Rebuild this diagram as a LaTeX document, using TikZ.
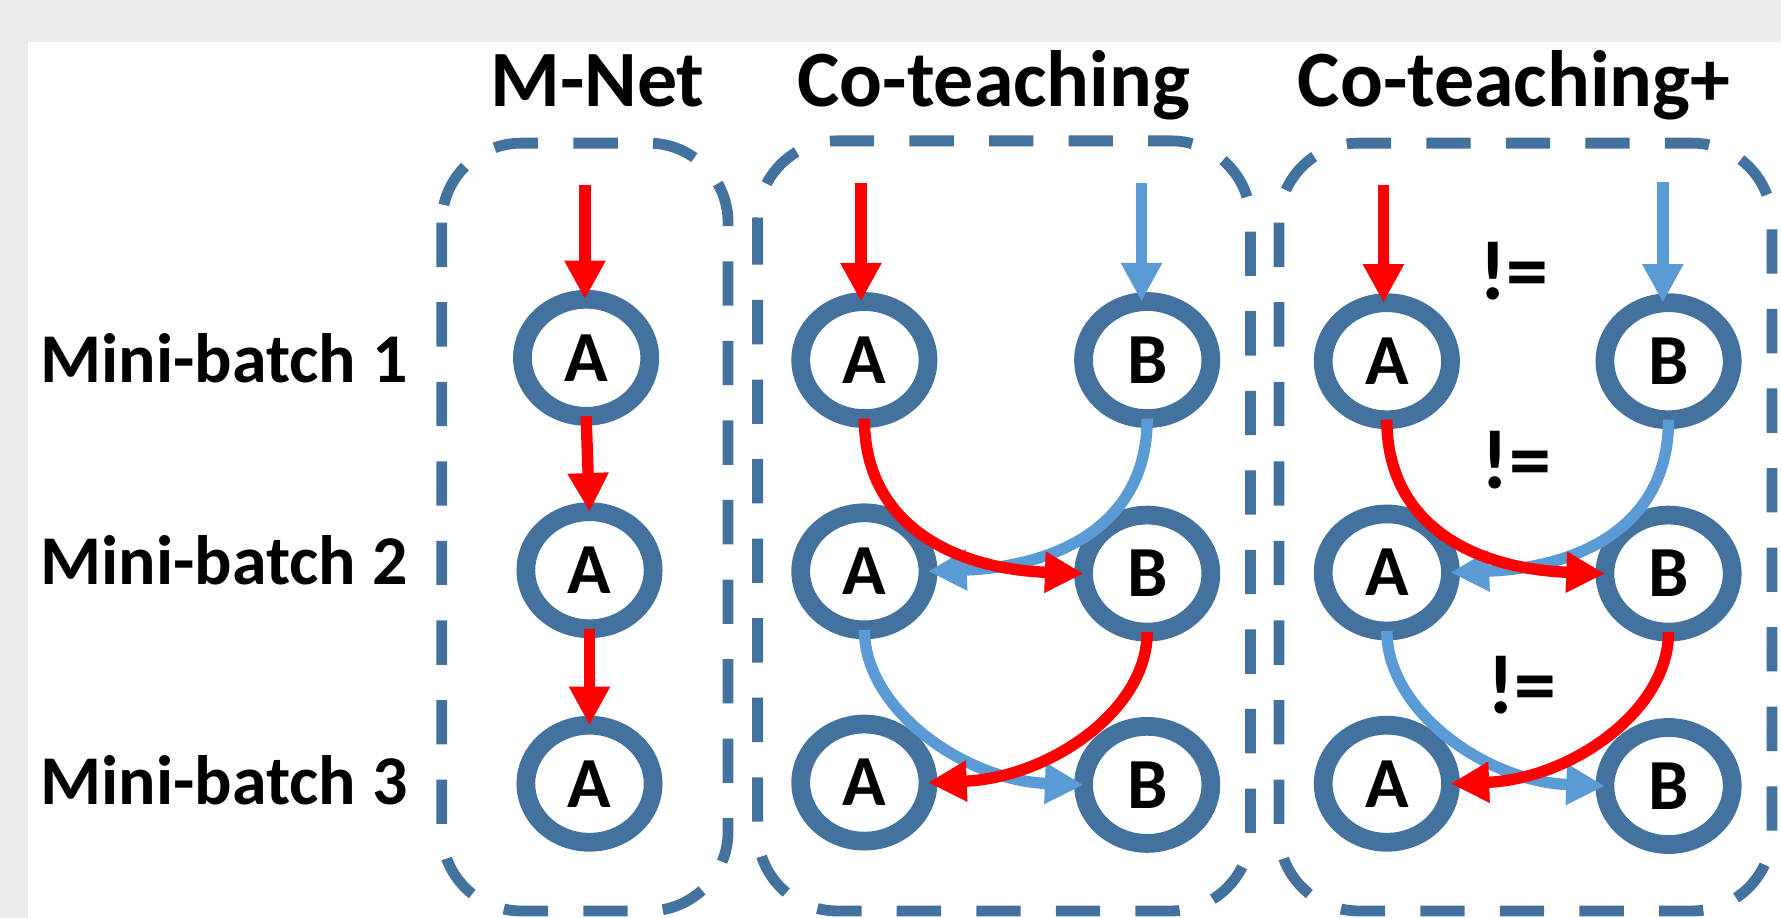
\documentclass[tikz,border=0pt]{standalone}
\usepackage{fontspec}
\setmainfont{Carlito}
\usetikzlibrary{shapes.geometric,arrows.meta}
\definecolor{ringc}{RGB}{68,114,158}
\definecolor{blu}{RGB}{91,155,213}
\definecolor{bgc}{RGB}{235,235,235}
\begin{document}
\begin{tikzpicture}[x=0.01cm,y=-0.01cm,
  net/.style={ellipse,draw=ringc,fill=white,line width=0.165cm,minimum width=1.12cm,minimum height=1.03cm,inner sep=0pt,outer sep=0pt,font=\fontsize{18}{21}\selectfont\bfseries},
  frame/.style={draw=ringc,line width=0.095cm,dash pattern=on 0.39cm off 0.31cm,rounded corners=0.7cm},
  redar/.style={draw=red,line width=0.1cm,-{Triangle[width=0.34cm,length=0.34cm]}},
  bluar/.style={draw=blu,line width=0.1cm,-{Triangle[width=0.34cm,length=0.34cm]}},
  rowlab/.style={anchor=base west,inner sep=0pt,font=\fontsize{17.5}{21}\selectfont\bfseries},
  title/.style={anchor=base,inner sep=0pt,font=\fontsize{20}{24}\selectfont\bfseries},
  neq/.style={anchor=base,inner sep=0pt,font=\fontsize{21}{25}\selectfont\bfseries}]

\fill[bgc] (0,0) rectangle (1568,808);
\fill[white] (25,37) rectangle (1568,808);
\useasboundingbox (0,0) rectangle (1568,808);

% frames
\draw[frame] (389,126) rectangle (641,802);
\draw[frame] (667,124) rectangle (1101,802);
\draw[frame] (1126,126) rectangle (1560,802);

% titles
\node[title] (t1) at (526,94) {M-Net};
\node[title] (t2) at (875,94) {Co-teaching};
\node[title] (t3) at (1333,94) {Co-teaching+};

% row labels
\node[rowlab] (r1) at (35,337) {Mini-batch 1};
\node[rowlab] (r2) at (35,515) {Mini-batch 2};
\node[rowlab] (r3) at (35,708) {Mini-batch 3};

% M-Net
\node[net] (m1) at (516,315) {A};
\node[net] (m2) at (519,502) {A};
\node[net] (m3) at (519,690) {A};
\coordinate (m0) at (515,163);
\draw[redar] (m0) -- (m0 |- m1.north);
\draw[redar] (m1.south) -- (m2.north);
\draw[redar] (m2.south) -- (m3.north);

% Co-teaching
\node[net] (ca1) at (761,317) {A};
\node[net] (cb1) at (1010,317) {B};
\node[net] (ca2) at (761,503) {A};
\node[net] (cb2) at (1010,505) {B};
\node[net] (ca3) at (761,689) {A};
\node[net] (cb3) at (1010,691) {B};
\coordinate (cr0) at (758,161);
\coordinate (cl0) at (1005,161);
\draw[redar] (cr0) -- (cr0 |- ca1.north);
\draw[bluar] (cl0) -- (cl0 |- cb1.north);
\draw[bluar] (cb1.south) .. controls +(0,95) and +(112,-4) .. (ca2.east);
\draw[redar] (ca1.south) .. controls +(0,95) and +(-112,-4) .. (cb2.west);
\draw[bluar] (ca2.south) .. controls +(0,70) and +(-105,-4) .. (cb3.west);
\draw[redar] (cb2.south) .. controls +(0,70) and +(105,-4) .. (ca3.east);

% Co-teaching+
\node[net] (pa1) at (1221,318) {A};
\node[net] (pb1) at (1469,318) {B};
\node[net] (pa2) at (1221,504) {A};
\node[net] (pb2) at (1469,505) {B};
\node[net] (pa3) at (1221,690) {A};
\node[net] (pb3) at (1469,692) {B};
\coordinate (pr0) at (1218,163);
\coordinate (pl0) at (1464,160);
\draw[redar] (pr0) -- (pr0 |- pa1.north);
\draw[bluar] (pl0) -- (pl0 |- pb1.north);
\draw[bluar] (pb1.south) .. controls +(0,95) and +(112,-4) .. (pa2.east);
\draw[redar] (pa1.south) .. controls +(0,95) and +(-112,-4) .. (pb2.west);
\draw[bluar] (pa2.south) .. controls +(0,70) and +(-105,-4) .. (pb3.west);
\draw[redar] (pb2.south) .. controls +(0,70) and +(105,-4) .. (pa3.east);

\node[neq] (n1) at (1333,264) {!=};
\node[neq] (n2) at (1335,430) {!=};
\node[neq] (n3) at (1340,628) {!=};
\end{tikzpicture}
\end{document}
